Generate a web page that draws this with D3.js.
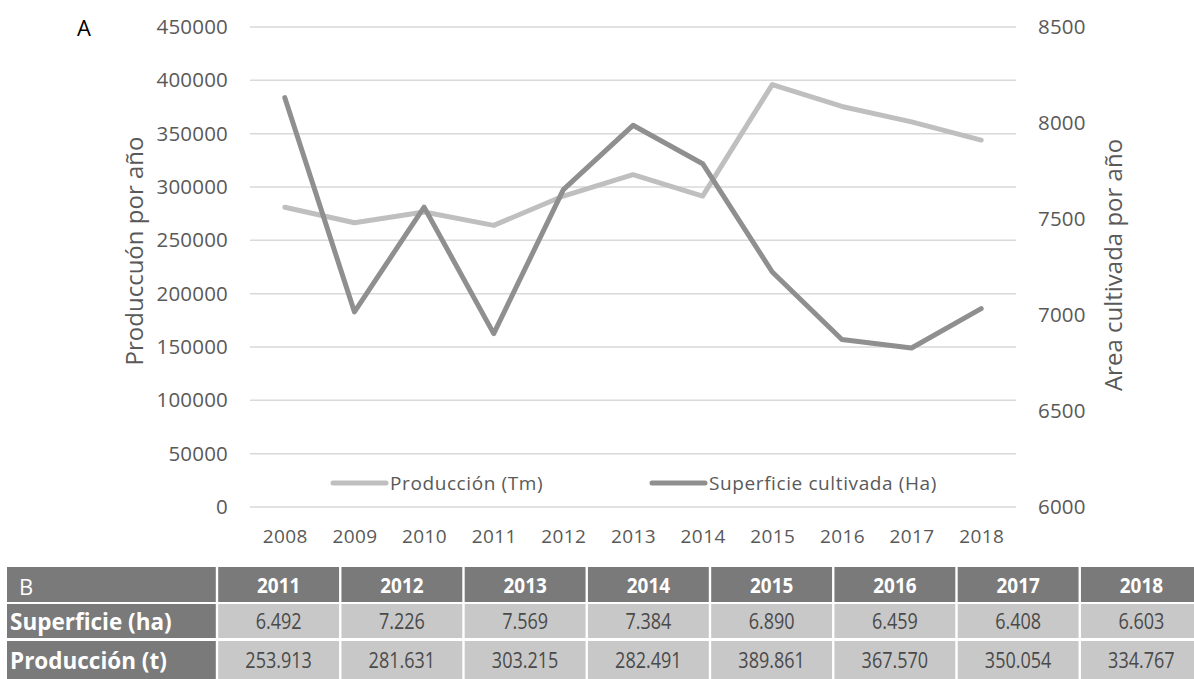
<!DOCTYPE html>
<html>
<head>
<meta charset="utf-8">
<script src="https://cdn.jsdelivr.net/npm/d3@7/dist/d3.min.js"></script>
<style>
  html, body { margin: 0; padding: 0; background: #ffffff; }
  svg { display: block; }
</style>
</head>
<body>
<svg id="chart" width="1194" height="679"></svg>
<script>
// ---------- DATA ----------
const years = ["2008","2009","2010","2011","2012","2013","2014","2015","2016","2017","2018"];
const produccion = [281000, 266500, 276500, 264000, 291500, 311500, 291500, 396000, 375500, 361000, 344000];
const superficie = [8132, 7016, 7562, 6903, 7653, 7988, 7788, 7224, 6872, 6828, 7033];
const leftTicks = [0, 50000, 100000, 150000, 200000, 250000, 300000, 350000, 400000, 450000];
const rightTicks = [6000, 6500, 7000, 7500, 8000, 8500];
const seriesNames = ["Producción (Tm)", "Superficie cultivada (Ha)"];
const leftTitle = "Produccuón por año";
const rightTitle = "Area cultivada por año";

const tableYears = ["2011","2012","2013","2014","2015","2016","2017","2018"];
const tableRowLabels = ["Superficie (ha)", "Producción (t)"];
const tableSuperficie = ["6.492","7.226","7.569","7.384","6.890","6.459","6.408","6.603"];
const tableProduccion = ["253.913","281.631","303.215","282.491","389.861","367.570","350.054","334.767"];

// ---------- STYLE ----------
const FONT = "'Open Sans', 'DejaVu Sans', sans-serif";
const TXT = "#595959";
const GRID = "#d9d9d9";
const C_PROD = "#bfbfbf";
const C_SUP = "#8f8f8f";

const svg = d3.select("#chart");
svg.append("rect").attr("width", 1194).attr("height", 679).attr("fill", "#ffffff");

const plot = {left: 250, right: 1016, top: 27, bottom: 507};

const x = d3.scalePoint().domain(years).range([plot.left, plot.right]).padding(0.5);
const yL = d3.scaleLinear().domain([0, 450000]).range([plot.bottom, plot.top]);
const yR = d3.scaleLinear().domain([6000, 8500]).range([plot.bottom, plot.top]);

// gridlines
svg.append("g").selectAll("line").data(leftTicks).join("line")
  .attr("x1", plot.left).attr("x2", plot.right)
  .attr("y1", d => yL(d)).attr("y2", d => yL(d))
  .attr("stroke", GRID).attr("stroke-width", 1.5);

// left axis
const gL = svg.append("g").attr("transform", `translate(${plot.left},0)`)
  .call(d3.axisLeft(yL).tickValues(leftTicks).tickSize(0).tickPadding(22).tickFormat(d3.format("d")));
gL.select(".domain").remove();
gL.selectAll("text").attr("font-family", FONT).attr("font-size", 20.5).attr("fill", TXT)
  .attr("letter-spacing", 0.2);

// right axis
const gR = svg.append("g").attr("transform", `translate(${plot.right},0)`)
  .call(d3.axisRight(yR).tickValues(rightTicks).tickSize(0).tickPadding(22).tickFormat(d3.format("d")));
gR.select(".domain").remove();
gR.selectAll("text").attr("font-family", FONT).attr("font-size", 20.5).attr("fill", TXT)
  .attr("letter-spacing", 0.2);

// bottom axis
const gB = svg.append("g").attr("transform", `translate(0,${plot.bottom})`)
  .call(d3.axisBottom(x).tickSize(0).tickPadding(23));
gB.select(".domain").remove();
gB.selectAll("text").attr("font-family", FONT).attr("font-size", 19).attr("fill", TXT)
  .attr("letter-spacing", 0.4);

// axis titles
svg.append("text").attr("transform", "translate(133,251) rotate(-90)")
  .attr("text-anchor", "middle").attr("dominant-baseline", "central")
  .attr("font-family", FONT).attr("font-size", 24).attr("fill", TXT).text(leftTitle);
svg.append("text").attr("transform", "translate(1112,265) rotate(-90)")
  .attr("text-anchor", "middle").attr("dominant-baseline", "central")
  .attr("font-family", FONT).attr("font-size", 24).attr("fill", TXT).text(rightTitle);

// lines
const lineL = d3.line().x((d, i) => x(years[i])).y(d => yL(d));
const lineR = d3.line().x((d, i) => x(years[i])).y(d => yR(d));
svg.append("path").datum(produccion).attr("d", lineL)
  .attr("fill", "none").attr("stroke", C_PROD).attr("stroke-width", 5)
  .attr("stroke-linejoin", "round").attr("stroke-linecap", "round");
svg.append("path").datum(superficie).attr("d", lineR)
  .attr("fill", "none").attr("stroke", C_SUP).attr("stroke-width", 5)
  .attr("stroke-linejoin", "round").attr("stroke-linecap", "round");

// legend
const legendItems = [
  {name: seriesNames[0], color: C_PROD, x0: 333},
  {name: seriesNames[1], color: C_SUP, x0: 652}
];
const lg = svg.append("g").selectAll("g").data(legendItems).join("g")
  .attr("transform", d => `translate(${d.x0},483)`);
lg.append("line").attr("x1", 0).attr("x2", 53).attr("y1", 0).attr("y2", 0)
  .attr("stroke", d => d.color).attr("stroke-width", 5).attr("stroke-linecap", "round");
lg.append("text").attr("x", 57).attr("y", 0).attr("dominant-baseline", "central")
  .attr("font-family", FONT).attr("font-size", 19).attr("fill", TXT)
  .attr("letter-spacing", 0.6).text(d => d.name);

// panel label A
svg.append("text").attr("x", 77).attr("y", 27).attr("dominant-baseline", "central")
  .attr("font-family", FONT).attr("font-size", 22).attr("fill", "#000").text("A");

// ---------- TABLE B ----------
const tbl = {left: 7, firstRight: 217, right: 1203};
const rowsY = [{y0: 567, y1: 602}, {y0: 604, y1: 638}, {y0: 641, y1: 682}];
const colX = d3.scaleBand().domain(tableYears).range([tbl.firstRight, tbl.right]).paddingInner(0);
const HEAD = "#7a7a7a", DATA = "#c8c8c8", GAP = 1.2;

const tg = svg.append("g");
// header row
tg.append("rect").attr("x", tbl.left).attr("y", rowsY[0].y0)
  .attr("width", tbl.firstRight - tbl.left - GAP).attr("height", rowsY[0].y1 - rowsY[0].y0).attr("fill", HEAD);
tg.selectAll("rect.hc").data(tableYears).join("rect").attr("class", "hc")
  .attr("x", d => colX(d) + GAP).attr("y", rowsY[0].y0)
  .attr("width", colX.bandwidth() - 2 * GAP).attr("height", rowsY[0].y1 - rowsY[0].y0).attr("fill", HEAD);
tg.append("text").attr("x", 19).attr("y", (rowsY[0].y0 + rowsY[0].y1) / 2 + 1)
  .attr("dominant-baseline", "central").attr("font-family", FONT).attr("font-size", 22)
  .attr("fill", "#ffffff").text("B");
tg.selectAll("text.hy").data(tableYears).join("text").attr("class", "hy")
  .attr("transform", d => `translate(${colX(d) + colX.bandwidth() / 2},${(rowsY[0].y0 + rowsY[0].y1) / 2}) scale(0.88,1)`)
  .attr("text-anchor", "middle").attr("dominant-baseline", "central")
  .attr("font-family", FONT).attr("font-weight", "bold").attr("font-size", 21.5)
  .attr("fill", "#ffffff").text(d => d);

// data rows
const rowValues = [tableSuperficie, tableProduccion];
rowValues.forEach((vals, r) => {
  const ry = rowsY[r + 1];
  const cy = (ry.y0 + Math.min(ry.y1, 679)) / 2;
  tg.append("rect").attr("x", tbl.left).attr("y", ry.y0)
    .attr("width", tbl.firstRight - tbl.left - GAP).attr("height", ry.y1 - ry.y0).attr("fill", HEAD);
  tg.append("text").attr("x", 10).attr("y", cy)
    .attr("dominant-baseline", "central").attr("font-family", FONT).attr("font-weight", "bold")
    .attr("font-size", 22.5).attr("fill", "#ffffff").text(tableRowLabels[r]);
  tg.selectAll(`rect.d${r}`).data(vals).join("rect").attr("class", `d${r}`)
    .attr("x", (d, i) => colX(tableYears[i]) + GAP).attr("y", ry.y0)
    .attr("width", colX.bandwidth() - 2 * GAP).attr("height", ry.y1 - ry.y0).attr("fill", DATA);
  tg.selectAll(`text.d${r}`).data(vals).join("text").attr("class", `d${r}`)
    .attr("transform", (d, i) => `translate(${colX(tableYears[i]) + colX.bandwidth() / 2},${cy}) scale(0.82,1)`)
    .attr("text-anchor", "middle").attr("dominant-baseline", "central")
    .attr("font-family", FONT).attr("font-size", 22).attr("fill", "#4a4a4a").text(d => d);
});
</script>
</body>
</html>
